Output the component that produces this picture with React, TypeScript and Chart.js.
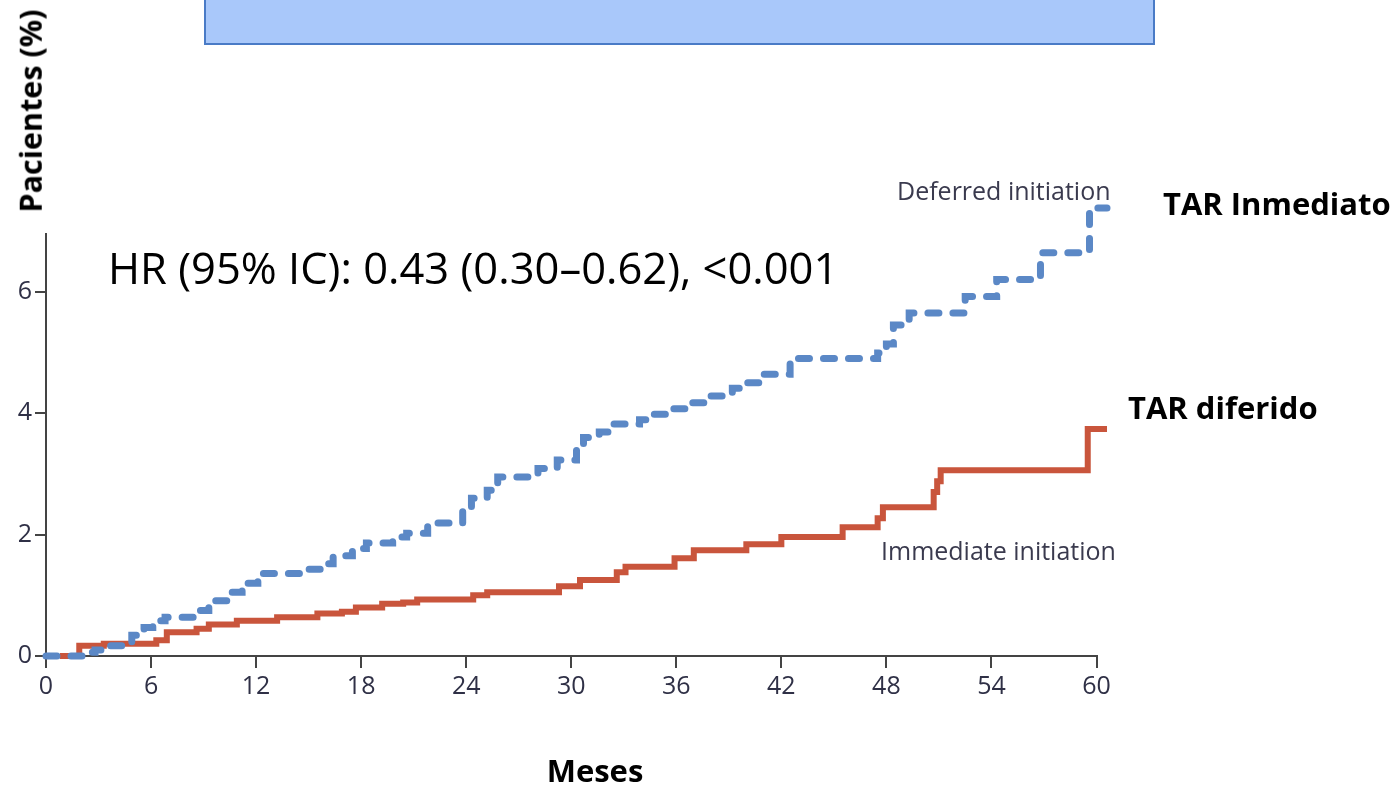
import React, { useEffect, useRef } from "react";
import { Chart, registerables } from "chart.js";

Chart.register(...registerables);

// ---- Data (months, cumulative % of patients) ----
const xTickValues = [0, 6, 12, 18, 24, 30, 36, 42, 48, 54, 60];
const yTickValues = [0, 2, 4, 6];

const deferredMonths = [
  0, 2.1, 2.8, 3.2, 4.4, 4.9, 5.6, 6.1, 6.8, 8.6, 9.3, 10.5, 11.2, 12.1, 14.5,
  15.8, 16.4, 17.5, 18.3, 19.8, 20.6, 21.8, 23.8, 24.3, 25.2, 25.8, 28.1, 29.2,
  30.3, 30.7, 31.6, 32.2, 33.9, 34.5, 35.5, 36.8, 37.7, 39.2, 39.8, 40.8, 42.5,
  47.5, 48.0, 48.4, 49.3, 52.5, 54.3, 56.8, 59.6, 60.6,
];
const deferredValues = [
  0, 0.06, 0.1, 0.17, 0.22, 0.34, 0.47, 0.58, 0.64, 0.75, 0.91, 1.05, 1.2, 1.36,
  1.43, 1.52, 1.65, 1.77, 1.86, 1.96, 2.02, 2.19, 2.4, 2.6, 2.73, 2.95, 3.09,
  3.23, 3.39, 3.6, 3.69, 3.82, 3.89, 3.98, 4.07, 4.17, 4.28, 4.41, 4.5, 4.64,
  4.9, 4.99, 5.14, 5.45, 5.65, 5.92, 6.2, 6.64, 7.38, 7.38,
];

const immediateMonths = [
  0.8, 1.9, 3.3, 6.3, 6.9, 8.6, 9.3, 10.9, 13.2, 15.5, 16.9, 17.7, 19.2, 20.4,
  21.2, 24.4, 25.2, 29.3, 30.5, 32.6, 33.1, 35.9, 37.0, 40.0, 42.0, 45.5, 47.5,
  47.8, 50.7, 50.9, 51.1, 59.5, 60.6,
];
const immediateValues = [
  0, 0.17, 0.2, 0.26, 0.39, 0.45, 0.52, 0.58, 0.64, 0.7, 0.73, 0.8, 0.86, 0.88,
  0.93, 1.0, 1.05, 1.15, 1.25, 1.38, 1.47, 1.61, 1.74, 1.84, 1.96, 2.12, 2.27,
  2.45, 2.7, 2.88, 3.06, 3.74, 3.74,
];

const FONT = "'Open Sans', Lato, sans-serif";
const TICK_COLOR = "#2f3046";

type LabelProps = {
  text: string;
  left: number;
  cy: number;
  size: number;
  bold?: boolean;
  color?: string;
  center?: boolean;
};

function Label({ text, left, cy, size, bold, color, center }: LabelProps) {
  return (
    <div
      style={{
        position: "absolute",
        left,
        top: cy,
        transform: center ? "translate(-50%, -50%)" : "translateY(-50%)",
        fontFamily: FONT,
        fontSize: size,
        fontWeight: bold ? 700 : 400,
        color: color || "#000",
        lineHeight: 1,
        whiteSpace: "nowrap",
      }}
    >
      {text}
    </div>
  );
}

export default function App() {
  const ref = useRef<HTMLCanvasElement>(null);

  useEffect(() => {
    if (!ref.current) return;
    const chart = new Chart(ref.current, {
      type: "line",
      data: {
        datasets: [
          {
            label: "Deferred initiation",
            data: deferredMonths.map((m, i) => ({ x: m, y: deferredValues[i] })),
            borderColor: "#5B88C6",
            borderWidth: 7,
            borderDash: [11, 14],
            borderCapStyle: "round",
            stepped: "before",
            pointRadius: 0,
            fill: false,
            clip: false as any,
          },
          {
            label: "Immediate initiation",
            data: immediateMonths.map((m, i) => ({ x: m, y: immediateValues[i] })),
            borderColor: "#C9553C",
            borderWidth: 6,
            stepped: "before",
            pointRadius: 0,
            fill: false,
            clip: false as any,
          },
        ],
      },
      options: {
        responsive: false,
        animation: false,
        devicePixelRatio: 1,
        layout: { padding: { left: 0, right: 299.5, top: 234, bottom: 79 } },
        plugins: { legend: { display: false }, tooltip: { enabled: false } },
        scales: {
          x: {
            type: "linear",
            min: 0,
            max: 60,
            afterBuildTicks: (s: any) => {
              s.ticks = xTickValues.map((v) => ({ value: v }));
            },
            ticks: {
              stepSize: 6,
              autoSkip: false,
              maxRotation: 0,
              padding: 4,
              color: TICK_COLOR,
              font: { family: FONT, size: 25 },
            },
            grid: {
              drawOnChartArea: false,
              drawTicks: true,
              tickLength: 12,
              tickColor: "#444",
              tickWidth: 2,
              lineWidth: 2,
            },
            border: { display: true, color: "#444", width: 2 },
            afterFit: (s: any) => {
              s.height = 50;
            },
          },
          y: {
            type: "linear",
            min: 0,
            max: 6.95,
            afterBuildTicks: (s: any) => {
              s.ticks = yTickValues.map((v) => ({ value: v }));
            },
            ticks: {
              stepSize: 2,
              includeBounds: false,
              padding: 3,
              color: TICK_COLOR,
              font: { family: FONT, size: 25 },
            },
            grid: {
              drawOnChartArea: false,
              drawTicks: true,
              tickLength: 11,
              tickColor: "#444",
              tickWidth: 2,
              lineWidth: 2,
            },
            border: { display: true, color: "#444", width: 2 },
            afterFit: (s: any) => {
              s.width = 46;
            },
          },
        },
      },
    });
    return () => chart.destroy();
  }, []);

  return (
    <div
      style={{
        position: "fixed",
        left: 0,
        top: 0,
        width: 1396,
        height: 785,
        background: "#fff",
        overflow: "hidden",
      }}
    >
      {/* clipped title box */}
      <div
        style={{
          position: "absolute",
          left: 204,
          top: -4,
          width: 947,
          height: 45,
          background: "#A9C8FA",
          border: "2px solid #4A7BC6",
        }}
      />
      <canvas
        ref={ref}
        width={1396}
        height={785}
        style={{ position: "absolute", left: 0, top: 0, width: 1396, height: 785 }}
      />
      <div
        style={{
          position: "absolute",
          left: 30,
          top: 111,
          transform: "translate(-50%, -50%) rotate(-90deg)",
          fontFamily: FONT,
          fontSize: 30.5,
          fontWeight: 700,
          lineHeight: 1,
          whiteSpace: "nowrap",
        }}
      >
        Pacientes (%)
      </div>
      <Label text="HR (95% IC): 0.43 (0.30–0.62), <0.001" left={108} cy={268} size={43.5} />
      <Label text="TAR Inmediato" left={1163} cy={203} size={31} bold />
      <Label text="TAR diferido" left={1128} cy={407} size={31} bold />
      <Label text="Meses" left={595} cy={770} size={31} bold center />
      <Label text="Deferred initiation" left={897} cy={190} size={25} color="#3a3a4e" />
      <Label text="Immediate initiation" left={881} cy={550} size={25} color="#3a3a4e" />
    </div>
  );
}
